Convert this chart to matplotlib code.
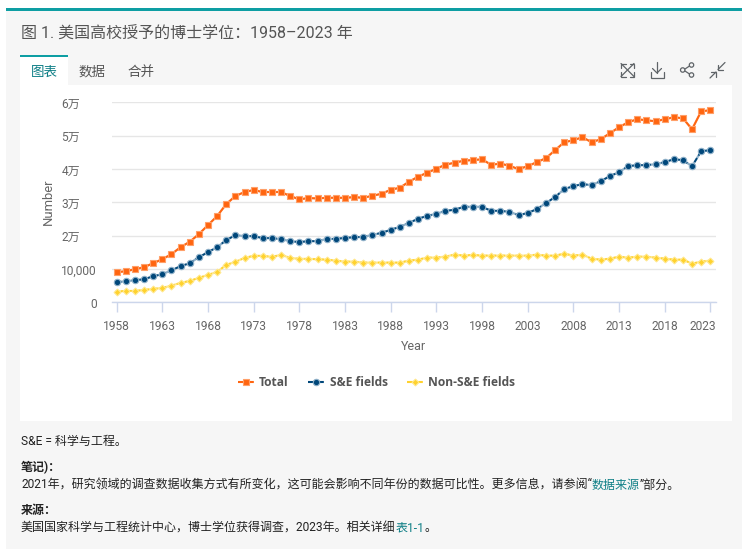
import matplotlib
matplotlib.use("Agg")
import matplotlib.pyplot as plt
from matplotlib.lines import Line2D
from matplotlib.patches import Circle, Rectangle
from matplotlib.transforms import ScaledTranslation

WIDTH, HEIGHT = 742, 549
CJK = ['Roboto', 'Noto Sans CJK SC', 'DejaVu Sans']
TEAL = '#0e9ea3'
LINK = '#0f7f86'
GREY = '#666666'

years = list(range(1958, 2024))
total = [
    9020, 9320, 9925, 10530, 11730, 12930, 14440, 16540, 18150, 20450, 23160,
    25860, 29470, 31880, 33080, 33680, 33080, 33080, 33080, 31880, 30880, 31280,
    31150, 31350, 31350, 31350, 31550, 31350, 31950, 32560, 33760, 34360, 36160,
    37670, 38870, 40075, 41280, 41880, 42480, 42680, 42880, 41280, 41580, 40980,
    39940, 40840, 42040, 43230, 45630, 48020, 48620, 49520, 48020, 48920, 50720,
    52510, 54010, 54910, 54610, 54310, 54910, 55510, 55210, 51920, 57310, 57610,
]
se_fields = [
    6015, 6316, 6617, 6917, 7820, 8420, 9624, 10830, 11730, 13530, 15040,
    16540, 18650, 20150, 19850, 19850, 19250, 19250, 18950, 18350, 18050, 18350,
    18320, 19020, 19020, 19320, 19520, 19620, 20225, 20830, 21730, 22630, 23835,
    25040, 25940, 26540, 27440, 27745, 28650, 28650, 28650, 27440, 27440, 27140,
    26170, 26770, 27960, 29760, 31560, 33950, 34850, 35450, 35150, 36350, 37840,
    39040, 40840, 41140, 41140, 41440, 42040, 42930, 42630, 40840, 45330, 45630,
]
non_se_fields = [
    3210, 3410, 3410, 3710, 4010, 4310, 5010, 5815, 6415, 7320, 8220,
    9120, 11230, 12130, 13330, 13935, 13935, 13630, 14235, 13330, 13030, 13030,
    12905, 12800, 12505, 12205, 12205, 11905, 11905, 11905, 11905, 11905, 12505,
    12800, 13410, 13410, 13710, 14310, 14010, 14210, 14010, 14010, 14010, 14010,
    13990, 13990, 14290, 13990, 13990, 14590, 13990, 14290, 13090, 12790, 13090,
    13690, 13390, 13690, 13690, 13390, 13090, 12790, 12790, 11600, 12200, 12500,
]
x_ticks = [1958, 1963, 1968, 1973, 1978, 1983, 1988, 1993, 1998, 2003, 2008, 2013, 2018, 2023]
y_ticks = [0, 10000, 20000, 30000, 40000, 50000, 60000]
y_tick_labels = ['0', '10,000', '2万', '3万', '4万', '5万', '6万']

series = [
    ('Total', total, '#ff6510', '#ff9f68', 's', 4.8, '-', (0, (3.2, 1.2))),
    ('S&E fields', se_fields, '#00477a', '#8fb0c8', 'o', 4.6, (0, (2.6, 1.6)), (0, (3.2, 1.2))),
    ('Non-S&E fields', non_se_fields, '#ffd22e', '#ffe88f', 'D', 3.5, (0, (1.2, 1.2)), (0, (3.2, 1.2))),
]


def px(size):
    return size * 0.72


def draw_page(fig):
    # Full figure axes in pixel coordinates for the page furniture
    page = fig.add_axes([0, 0, 1, 1], zorder=0)
    page.set_xlim(0, WIDTH)
    page.set_ylim(HEIGHT, 0)
    page.axis('off')
    page.add_patch(Rectangle((6, 8), 736, 541, color='#f6f6f6', lw=0))
    page.add_patch(Rectangle((6, 8), 736, 3, color=TEAL, lw=0))
    page.add_patch(Rectangle((20, 85), 712, 336, color='white', lw=0))
    page.add_patch(Rectangle((20, 55), 48, 30, color='white', lw=0))
    page.add_patch(Rectangle((20, 55), 48, 2, color=TEAL, lw=0))

    page.text(21, 34.5, '图 1. 美国高校授予的博士学位：1958–2023 年', family=CJK,
              fontsize=px(16), color='#555555', va='center')
    page.text(44.5, 72, '图表', family=CJK, fontsize=px(13.5), color=LINK, ha='center', va='center')
    page.text(92.5, 72, '数据', family=CJK, fontsize=px(13.5), color='#555555', ha='center', va='center')
    page.text(140.5, 72, '合并', family=CJK, fontsize=px(13.5), color='#555555', ha='center', va='center')
    return page


def draw_icons(page):
    c = '#5f6468'
    lw = 0.9

    def seg(*pts):
        page.plot([p[0] for p in pts], [p[1] for p in pts], color=c, lw=lw,
                  solid_capstyle='round', solid_joinstyle='miter')

    # expand
    seg((621, 63.5), (634, 76.5))
    seg((634, 63.5), (621, 76.5))
    seg((621, 68), (621, 63.5), (625.5, 63.5))
    seg((629.5, 63.5), (634, 63.5), (634, 68))
    seg((621, 72), (621, 76.5), (625.5, 76.5))
    seg((629.5, 76.5), (634, 76.5), (634, 72))
    # download
    seg((657, 62), (657, 73))
    seg((652.5, 68.5), (657, 73), (661.5, 68.5))
    seg((650.5, 72), (650.5, 77.5), (664, 77.5), (664, 72))
    # share
    seg((685, 69), (689.5, 66))
    seg((685, 71), (689.5, 74))
    for x, y in [(682.7, 70), (691.5, 65), (691.5, 75)]:
        page.add_patch(Circle((x, y), 2.2, fill=False, ec=c, lw=lw))
    # collapse
    seg((725, 62.5), (718, 69.5))
    seg((718, 65), (718, 69.5), (722.5, 69.5))
    seg((710, 78), (716, 72))
    seg((711, 72), (716, 72), (716, 77))


def draw_notes(fig, page):
    def run(x, y, parts, **kw):
        # Lay coloured pieces of one line end to end
        renderer = fig.canvas.get_renderer()
        for text, color in parts:
            t = page.text(x, y, text, family=CJK, fontsize=px(12), color=color, va='center', **kw)
            x = page.transData.inverted().transform(t.get_window_extent(renderer).corners()[3])[0]

    dark = '#222222'
    run(21, 441, [('S&E = 科学与工程。', dark)])
    run(21, 467.5, [('笔记)：', dark)], fontweight='bold')
    run(21, 485, [('2021年，研究领域的调查数据收集方式有所变化，这可能会影响不同年份的数据可比性。更多信息，请参阅“', dark),
                  ('数据来源', LINK), ('”部分。', dark)])
    run(21, 510.5, [('来源：', dark)], fontweight='bold')
    run(21, 528, [('美国国家科学与工程统计中心，博士学位获得调查，2023年。相关详细', dark),
                  ('表1-1', LINK), ('。', dark)])


def draw_chart(fig):
    ax = fig.add_axes([112 / WIDTH, 1 - 302.3 / HEIGHT, 604 / WIDTH, 200 / HEIGHT], zorder=1)
    ax.patch.set_alpha(0)
    for name, values, color, pale, marker, size, style, _ in series:
        ax.plot(years, values, color=pale, lw=1.6, zorder=2)
        ax.plot(years, values, color=color, lw=1.3, ls=style, marker=marker, ms=size,
                mec=pale, mew=0.8, zorder=3, clip_on=False)

    ax.set_xlim(1957.49, 2023.62)
    ax.set_ylim(0, 60000)
    for side in ('top', 'left', 'right'):
        ax.spines[side].set_visible(False)
    ax.spines['bottom'].set_color('#ccd6eb')
    ax.spines['bottom'].set_linewidth(1)
    ax.set_axisbelow(True)
    ax.grid(axis='y', color='#e6e6e6', lw=1)

    ax.set_xticks(x_ticks)
    ax.set_yticks(y_ticks)
    ax.set_yticklabels(y_tick_labels)
    ax.tick_params(axis='x', length=px(10), width=1, color='#ccd6eb', pad=px(7.5),
                   labelsize=px(12), labelcolor=GREY)
    ax.tick_params(axis='y', length=0, labelsize=px(12), labelcolor=GREY)
    shift_down = ScaledTranslation(0, -0.7 / 100, fig.dpi_scale_trans)
    for tick, label in zip(ax.yaxis.get_major_ticks(), y_tick_labels):
        tick.set_pad(px(32) if '万' in label else px(15))
        tick.label1.set_family(CJK)
        tick.label1.set_transform(tick.label1.get_transform() + shift_down)
    for label in ax.get_xticklabels():
        label.set_family(CJK)
    # The last year label is pushed back inside the plot edge
    last = ax.get_xticklabels()[-1]
    last.set_ha('right')
    last.set_transform(last.get_transform() + ScaledTranslation(5.5 / 100, 0, fig.dpi_scale_trans))

    fig.text(48 / WIDTH, 1 - 201.5 / HEIGHT, 'Number', rotation=90, family=CJK, fontsize=px(13),
             color=GREY, ha='center', va='center')
    fig.text(414 / WIDTH, 1 - 346.5 / HEIGHT, 'Year', family=CJK, fontsize=px(12.5),
             color=GREY, ha='center', va='center')

    handles = [
        Line2D([], [], color=color, lw=1.5, ls=dash, marker=marker, ms=size, mec=pale, mew=0.8)
        for _, _, color, pale, marker, size, _, dash in series
    ]
    legend = fig.legend(handles, [s[0] for s in series], loc='center', ncol=3, frameon=False,
                        bbox_to_anchor=(376.5 / WIDTH, 1 - 382.5 / HEIGHT), handlelength=1.33,
                        handletextpad=0.46, columnspacing=1.6, borderpad=0,
                        prop={'family': 'Open Sans', 'size': px(12), 'weight': 'bold'})
    for text in legend.get_texts():
        text.set_color('#555555')


def main():
    fig = plt.figure(figsize=(WIDTH / 100, HEIGHT / 100), dpi=100, facecolor='white')
    page = draw_page(fig)
    draw_icons(page)
    draw_notes(fig, page)
    draw_chart(fig)
    fig.savefig('out.png', dpi=100)


if __name__ == '__main__':
    main()
